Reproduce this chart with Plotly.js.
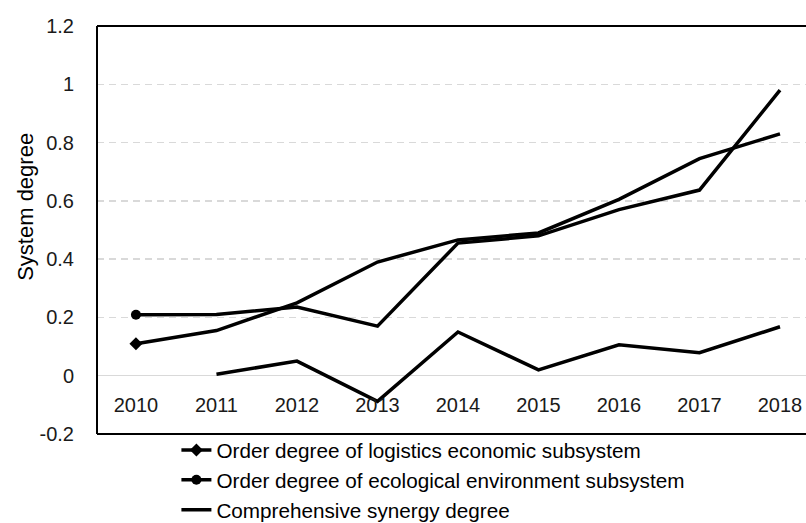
<!DOCTYPE html>
<html>
<head>
<meta charset="utf-8">
<script src="https://cdn.plot.ly/plotly-3.0.1.min.js"></script>
<style>html,body{margin:0;padding:0;background:#fff;}#chart{width:806px;height:523px;}</style>
</head>
<body>
<div id="chart"></div>
<script>
const years = ["2010","2011","2012","2013","2014","2015","2016","2017","2018"];
const logistics = [0.11, 0.155, 0.25, 0.39, 0.466, 0.49, 0.605, 0.745, 0.83];
const ecological = [0.209, 0.21, 0.236, 0.17, 0.455, 0.48, 0.57, 0.637, 0.98];
const synergy = [null, 0.005, 0.05, -0.088, 0.15, 0.02, 0.106, 0.079, 0.168];
const seriesNames = [
  "Order degree of logistics economic subsystem",
  "Order degree of ecological environment subsystem",
  "Comprehensive synergy degree"
];
const yTitle = "System degree";
const yTicks = [-0.2, 0, 0.2, 0.4, 0.6, 0.8, 1, 1.2];
const yTickText = ["-0.2", "0", "0.2", "0.4", "0.6", "0.8", "1", "1.2"];

const firstOnly = (arr, s) => arr.map((v, i) => (i === 0 ? s : 0));
const lineStyle = {color: "#000", width: 3.5};
const mk = (sym, size) => ({symbol: sym, color: "#000", size: size, opacity: 1, line: {color: "#000", width: 0}});

const traces = [
  {x: years, y: logistics, mode: "lines+markers", showlegend: false,
   line: lineStyle, marker: mk("diamond", firstOnly(years, 10))},
  {x: years, y: ecological, mode: "lines+markers", showlegend: false,
   line: lineStyle, marker: mk("circle", firstOnly(years, 10))},
  {x: years, y: synergy, mode: "lines", showlegend: false, line: lineStyle},
  // legend entries
  {x: [null], y: [null], mode: "lines+markers", name: seriesNames[0], line: lineStyle, marker: mk("diamond", 10)},
  {x: [null], y: [null], mode: "lines+markers", name: seriesNames[1], line: lineStyle, marker: mk("circle", 10)},
  {x: [null], y: [null], mode: "lines", name: seriesNames[2], line: lineStyle}
];

const layout = {
  width: 806, height: 523,
  margin: {l: 97, r: 0, t: 26, b: 89, autoexpand: false},
  paper_bgcolor: "#fff", plot_bgcolor: "#fff",
  font: {family: "Liberation Sans, Arial, sans-serif", color: "#1a1a1a", size: 20},
  showlegend: true,
  legend: {x: 0.112, xanchor: "left", y: 0.01, yanchor: "top",
           font: {size: 20.7, color: "#000"}, bgcolor: "rgba(0,0,0,0)", tracegroupgap: 0},
  xaxis: {type: "category", range: [-0.484, 8.323], showgrid: false, zeroline: false,
          showline: false, anchor: "free", position: 0.142, ticks: "",
          tickfont: {size: 20}, ticklabelstandoff: 15, fixedrange: true},
  yaxis: {range: [-0.2, 1.2], tickvals: yTicks, ticktext: yTickText,
          showgrid: true, gridcolor: "#d9d9d9", gridwidth: 1.5, griddash: "7px,5px",
          zeroline: true, zerolinecolor: "#d9d9d9", zerolinewidth: 1.5,
          showline: false, ticks: "", ticklabelstandoff: 22, tickfont: {size: 20},
          automargin: false, fixedrange: true},
  annotations: [
    {text: yTitle, xref: "paper", yref: "paper", x: -0.102, y: 0.556,
     xanchor: "center", yanchor: "middle", textangle: -90, showarrow: false,
     font: {size: 22, color: "#000"}}
  ],
  shapes: [
    {type: "line", xref: "paper", yref: "paper", x0: 0, x1: 0, y0: 0, y1: 1, line: {color: "#000", width: 2}},
    {type: "line", xref: "paper", yref: "paper", x0: 0, x1: 1.05, y0: 1, y1: 1, line: {color: "#000", width: 2}},
    {type: "line", xref: "paper", yref: "paper", x0: 0, x1: 1.05, y0: 0, y1: 0, line: {color: "#000", width: 2}}
  ]
};

Plotly.newPlot("chart", traces, layout, {displayModeBar: false, staticPlot: true});
</script>
</body>
</html>
